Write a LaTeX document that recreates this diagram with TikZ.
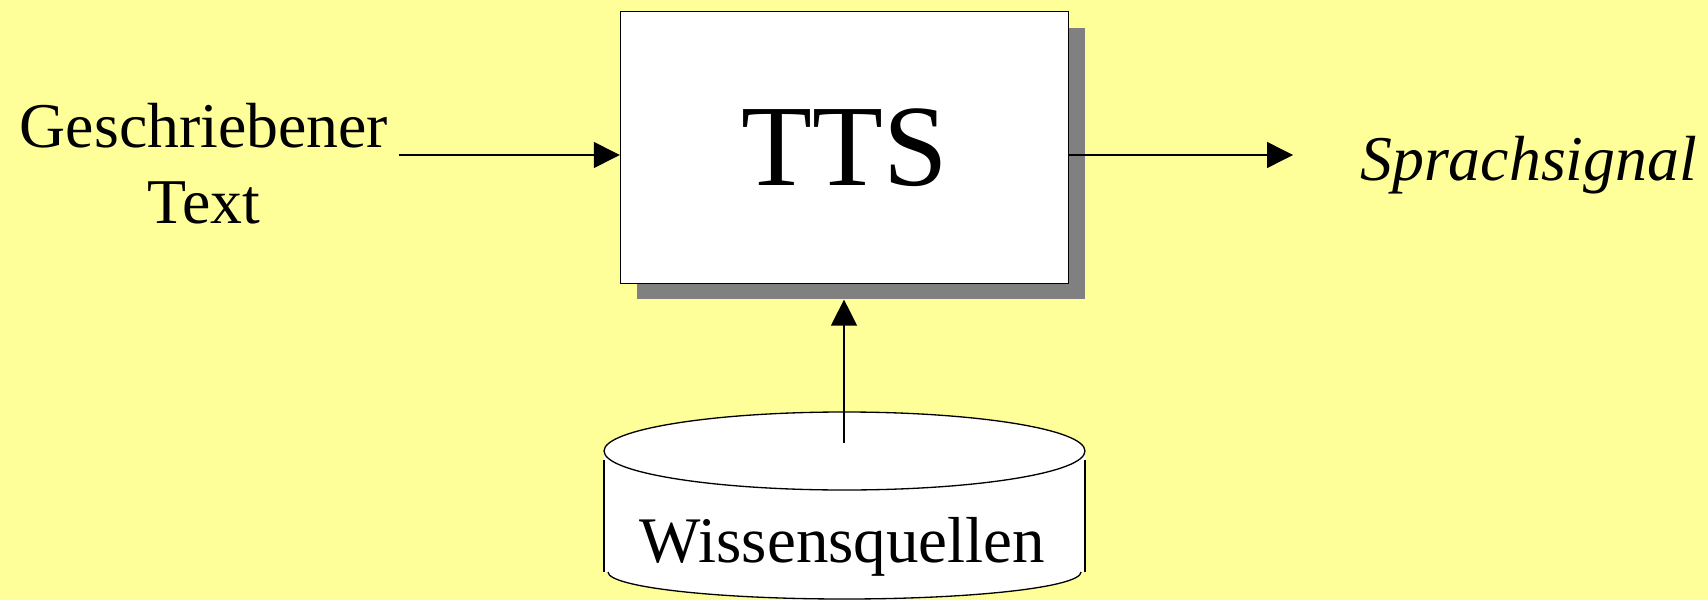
\documentclass[tikz,border=0pt]{standalone}
\usepackage{fontspec}
\setmainfont{Liberation Serif}
\usetikzlibrary{arrows.meta, positioning, calc}
\definecolor{slideyellow}{RGB}{255,255,153}
\definecolor{shadowgray}{RGB}{128,128,128}

\begin{document}
\begin{tikzpicture}[
  > = {Triangle[length=5.2mm, width=5.2mm]},
  thin arrow/.style = {->, line width=0.75pt},
  tts box/.style = {draw, line width=0.8pt, fill=white, minimum width=8.96cm, minimum height=5.43cm, inner sep=0pt},
  shadow box/.style = {fill=shadowgray, minimum width=8.96cm, minimum height=5.43cm, inner sep=0pt},
  big text/.style = {font=\fontsize{36.3}{43.2}\selectfont, inner sep=0pt}
]
  \fill[slideyellow] (0,0) rectangle (34.16,12);
  \useasboundingbox (0,0) rectangle (34.16,12);

  \node[shadow box] (ttsshadow) at (17.21,8.73) {};
  \node[tts box] (tts) at (16.89,9.05) {\fontsize{66}{70}\selectfont TTS};

  \node[big text, align=center, inner xsep=0.2cm] (intext) at (4.08,8.73) {Geschriebener\\Text};
  \node[big text, anchor=base west] (outtext) at (27.2,8.4) {\itshape Sprachsignal};
  \coordinate (sig) at (25.86,8.9);

  \fill[white] (12.08,2.98) -- (12.08,0.56) -- (12.16,0.56)
    arc[start angle=180, end angle=360, x radius=4.73, y radius=0.54]
    -- (21.70,0.56) -- (21.70,2.98) -- cycle;
  \draw[line width=0.75pt] (12.08,2.80) -- (12.08,0.56);
  \draw[line width=0.75pt] (21.70,2.80) -- (21.70,0.56);
  \draw[line width=0.75pt] (12.16,0.56)
    arc[start angle=180, end angle=360, x radius=4.73, y radius=0.54];
  \draw[line width=0.75pt, fill=white] (16.89,2.98) ellipse [x radius=4.81, y radius=0.78];
  \coordinate (dbtop) at (16.88,3.14);
  \node[big text, anchor=base, font=\fontsize{37}{43.2}\selectfont] (db) at (16.85,0.76) {Wissensquellen};

  \draw[thin arrow] (intext.east |- sig) -- (tts.west |- sig);
  \draw[thin arrow] (tts.east |- sig) -- (sig);
  \draw[thin arrow] (dbtop) -- (dbtop |- ttsshadow.south);
\end{tikzpicture}
\end{document}
